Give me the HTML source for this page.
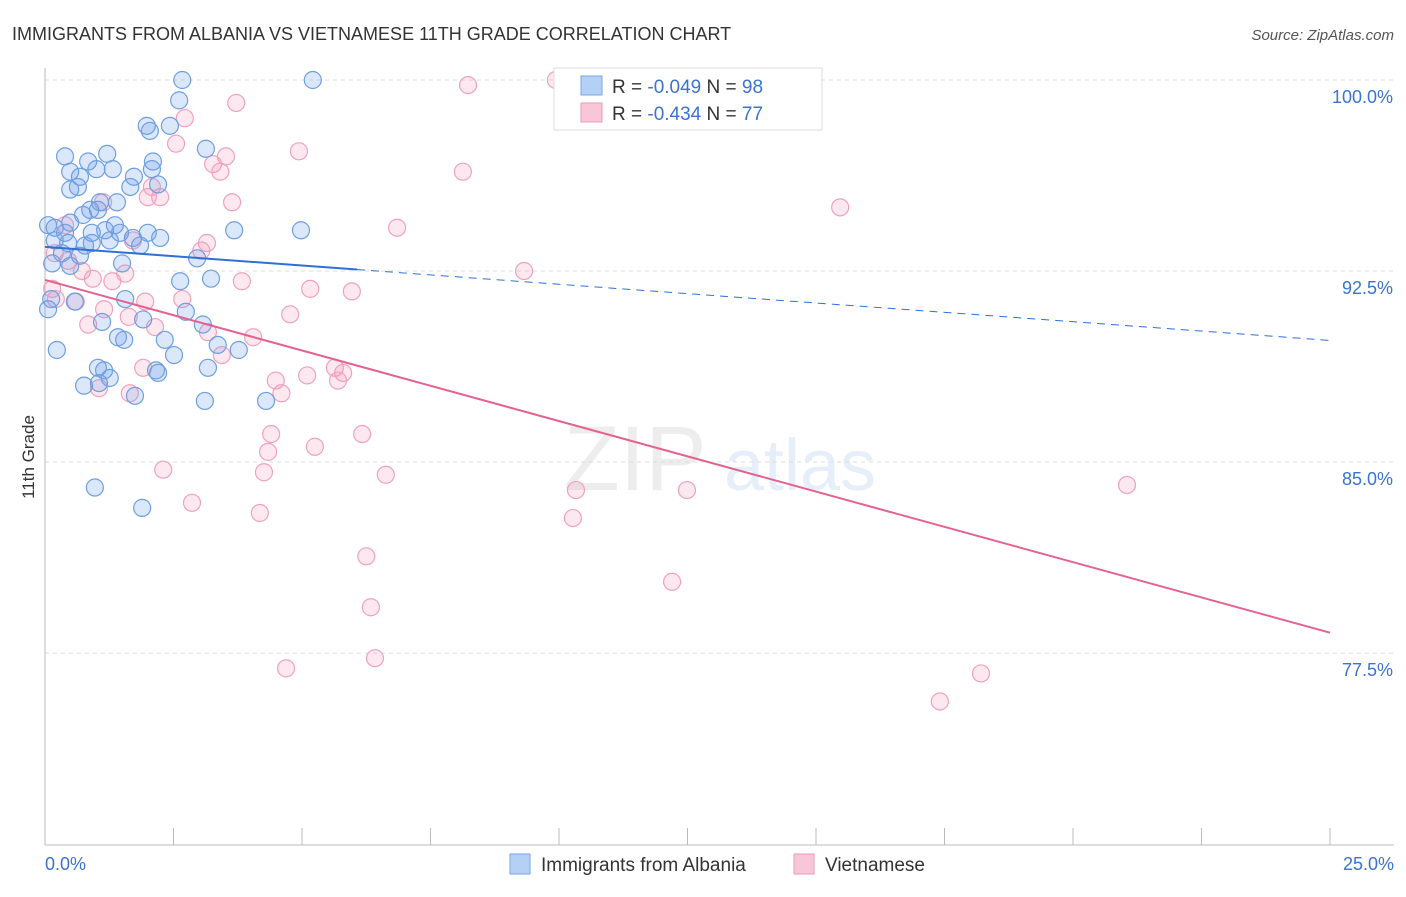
<!DOCTYPE html>
<html><head><meta charset="utf-8"><style>
body{margin:0;background:#fff;font-family:"Liberation Sans",sans-serif;}
svg text{font-family:"Liberation Sans",sans-serif;}
</style></head><body>
<svg id="chart" width="1406" height="892" xmlns="http://www.w3.org/2000/svg">
<text x="12" y="40" font-size="18" fill="#333">IMMIGRANTS FROM ALBANIA VS VIETNAMESE 11TH GRADE CORRELATION CHART</text>
<text x="1394" y="40" font-size="15" fill="#555" font-style="italic" text-anchor="end">Source: ZipAtlas.com</text>
<text transform="translate(34,457) rotate(-90)" font-size="17" fill="#333" text-anchor="middle">11th Grade</text>
<g opacity="0.35">
<text x="635" y="490" font-size="92" fill="#ccc" font-family="Liberation Serif" text-anchor="middle">ZIP</text>
<text x="800" y="490" font-size="72" fill="#b8cfee" text-anchor="middle">atlas</text>
</g>
<g id="grid"></g><g id="axes"></g><g id="pts"></g><g id="trend"></g>
<g>
<rect x="554" y="68" width="268" height="62" fill="#fff" stroke="#ddd"/>
<rect x="581" y="76" width="21" height="19" fill="#b5d0f5" stroke="#7aa6e6"/>
<text x="612" y="93" font-size="19" fill="#333">R = <tspan fill="#3b73d0">-0.049</tspan>   N = <tspan fill="#3b73d0">98</tspan></text>
<rect x="581" y="103" width="21" height="19" fill="#f8c6d6" stroke="#ee9ab6"/>
<text x="612" y="120" font-size="19" fill="#333">R = <tspan fill="#3b73d0">-0.434</tspan>   N = <tspan fill="#3b73d0">77</tspan></text>
</g>
<g>
<rect x="510" y="854" width="20" height="20" fill="#b5d0f5" stroke="#7aa6e6"/>
<text x="541" y="871" font-size="19" fill="#333">Immigrants from Albania</text>
<rect x="794" y="854" width="20" height="20" fill="#f8c6d6" stroke="#ee9ab6"/>
<text x="825" y="871" font-size="19" fill="#333">Vietnamese</text>
</g>
</svg>
<script>
const yTicks=[100,92.5,85,77.5];
const yTickLabels=["100.0%","92.5%","85.0%","77.5%"];
const xTicks=[0,2.5,5,7.5,10,12.5,15,17.5,20,22.5,25];
const blueX=[2.67,5.21,2.61,1.98,2.43,2.04,3.13,0.39,1.21,0.84,2.1,0.49,1.0,1.32,0.68,2.08,1.73,2.2,1.66,0.49,0.64,1.07,1.4,0.88,1.03,0.74,0.49,1.36,0.19,0.39,0.91,1.17,1.46,2.0,3.68,4.98,0.19,0.45,0.78,1.26,1.71,2.24,1.85,0.91,0.33,0.68,0.14,0.49,1.5,2.96,2.63,3.23,0.12,0.58,1.56,0.06,2.74,1.11,1.91,3.07,1.42,1.54,2.33,3.36,0.23,3.77,2.51,1.03,1.15,2.16,2.2,3.17,1.26,1.05,0.76,1.75,3.11,4.3,0.97,1.89,0.06];
const blueY=[100.0,100.0,99.2,98.2,98.2,98.0,97.3,97.0,97.1,96.8,96.8,96.4,96.5,96.5,96.2,96.5,96.2,95.9,95.8,95.7,95.8,95.2,95.2,94.9,94.9,94.7,94.4,94.3,94.2,94.0,94.0,94.1,94.0,94.0,94.1,94.1,93.7,93.6,93.5,93.7,93.8,93.8,93.5,93.6,93.2,93.1,92.8,92.7,92.8,93.0,92.1,92.2,91.4,91.3,91.4,91.0,90.9,90.5,90.6,90.4,89.9,89.8,89.8,89.6,89.4,89.4,89.2,88.7,88.6,88.6,88.5,88.7,88.3,88.1,88.0,87.6,87.4,87.4,84.0,83.2,94.3];
const pinkX=[9.94,8.23,3.72,2.72,2.55,4.94,3.52,3.27,3.41,8.13,2.08,2.0,2.24,3.64,15.47,1.13,6.85,0.39,1.71,3.15,3.04,0.19,0.45,9.32,0.72,0.93,1.56,1.31,3.83,5.16,5.97,0.14,0.21,2.67,0.6,1.15,1.95,4.77,1.63,0.84,2.14,3.17,4.05,3.44,1.91,5.64,5.8,5.1,4.49,5.7,4.6,1.05,1.65,4.4,6.17,5.25,4.34,2.3,4.26,6.63,21.05,10.33,12.49,2.86,4.18,10.27,6.25,12.2,6.34,6.42,4.69,18.21,17.41];
const pinkY=[100.0,99.8,99.1,98.5,97.5,97.2,97.0,96.7,96.4,96.4,95.8,95.4,95.4,95.2,95.0,95.2,94.2,94.3,93.7,93.6,93.3,93.2,92.9,92.5,92.5,92.2,92.4,92.1,92.1,91.8,91.7,91.8,91.4,91.4,91.3,91.0,91.3,90.8,90.7,90.4,90.3,90.1,89.9,89.2,88.7,88.7,88.5,88.4,88.2,88.2,87.7,87.9,87.7,86.1,86.1,85.6,85.4,84.7,84.6,84.5,84.1,83.9,83.9,83.4,83.0,82.8,81.3,80.3,79.3,77.3,76.9,76.7,75.6];
const blueTrend=[93.45,-0.147];
const pinkTrend=[92.15,-0.554];
const NS="http://www.w3.org/2000/svg";
const X=v=>45+v*51.4, Y=v=>80+(100-v)*25.47;
function mk(t,a,p){const e=document.createElementNS(NS,t);for(const k in a)e.setAttribute(k,a[k]);p.appendChild(e);return e;}
const grid=document.getElementById('grid'),axes=document.getElementById('axes'),pts=document.getElementById('pts'),tr=document.getElementById('trend');
yTicks.forEach((v,i)=>{
 const l=mk('line',{x1:45,x2:1394,y1:Y(v),y2:Y(v),stroke:'#ddd','stroke-dasharray':'4,4'},grid);
 
 
 const t=mk('text',{x:1393,y:Y(v)+23,'font-size':18,fill:'#3b73d0','text-anchor':'end'},grid);
 t.textContent=yTickLabels[i];
 
 
});
const xa=mk('line',{x1:45,x2:1394,y1:845,y2:845,stroke:'#bbb'},axes);


const ya=mk('line',{x1:45,x2:45,y1:68,y2:845,stroke:'#bbb'},axes);


xTicks.forEach(v=>{
 const t=mk('line',{x1:X(v),x2:X(v),y1:828,y2:845,stroke:'#bbb'},axes);
 
 
});
[[0,"0.0%","start",45],[25,"25.0%","end",1394]].forEach(d=>{
 const t=mk('text',{x:d[3],y:870,'font-size':18,fill:'#3b73d0','text-anchor':d[2]},axes);
 t.textContent=d[1];
 
 
});
pinkX.forEach((x,i)=>{
 const c=mk('circle',{cx:X(x),cy:Y(pinkY[i]),r:8.5,fill:'rgba(244,150,180,0.22)',stroke:'#f0a2bc','stroke-width':1.2},pts);
 
 
});
blueX.forEach((x,i)=>{
 const c=mk('circle',{cx:X(x),cy:Y(blueY[i]),r:8.5,fill:'rgba(110,160,235,0.25)',stroke:'#6f9fe0','stroke-width':1.2},pts);
 
 
});
const bx=6.07;
const b1=mk('line',{x1:X(0),y1:Y(blueTrend[0]),x2:X(bx),y2:Y(blueTrend[0]+blueTrend[1]*bx),stroke:'#2f6fd6','stroke-width':2},tr);


const b2=mk('line',{x1:X(bx),y1:Y(blueTrend[0]+blueTrend[1]*bx),x2:X(25),y2:Y(blueTrend[0]+blueTrend[1]*25),stroke:'#2f6fd6','stroke-width':1,'stroke-dasharray':'8,6'},tr);


const p1=mk('line',{x1:X(0),y1:Y(pinkTrend[0]),x2:X(25),y2:Y(pinkTrend[0]+pinkTrend[1]*25),stroke:'#e4628f','stroke-width':2},tr);


</script>
</body></html>
